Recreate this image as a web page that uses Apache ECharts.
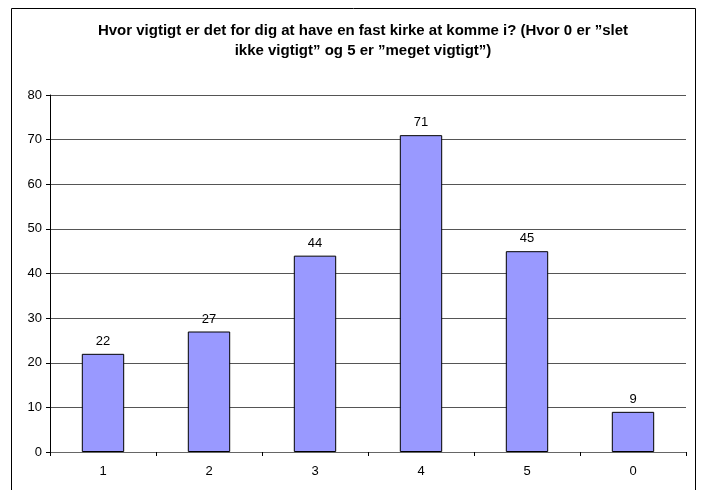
<!DOCTYPE html>
<html>
<head>
<meta charset="utf-8">
<script src="https://cdn.jsdelivr.net/npm/echarts@6/dist/echarts.min.js"></script>
<style>
    html, body { margin: 0; padding: 0; background: #fff; }
    #chart { width: 703px; height: 490px; }
</style>
</head>
<body>
<div id="chart"></div>
<script>
    // svar-kategorier og antal
    const categories = ['1', '2', '3', '4', '5', '0']
    const counts = [22, 27, 44, 71, 45, 9]
    const yTicks = [0, 10, 20, 30, 40, 50, 60, 70, 80]

    const chart = echarts.init(document.getElementById('chart'))
    chart.setOption({
        animation: false,
        textStyle: {fontFamily: 'Liberation Sans, Arial, sans-serif'},
        title: {
            text: 'Hvor vigtigt er det for dig at have en fast kirke at komme i? (Hvor 0 er ”slet\nikke vigtigt” og 5 er ”meget vigtigt”)',
            left: 358,
            top: 16,
            textAlign: 'center',
            textStyle: {fontSize: 15, fontWeight: 'bold', color: '#000', lineHeight: 20}
        },
        graphic: [{
            type: 'rect',
            shape: {x: 11.5, y: 8.5, width: 684, height: 520},
            style: {fill: 'none', stroke: '#000', lineWidth: 1},
            silent: true
        }],
        grid: {left: 50, right: 17, top: 95, bottom: 38},
        xAxis: {
            type: 'category',
            data: categories,
            axisLine: {lineStyle: {color: '#666'}},
            axisTick: {show: true, length: 4, inside: false, lineStyle: {color: '#000'}},
            axisLabel: {color: '#000', fontSize: 13, margin: 13}
        },
        yAxis: {
            type: 'value',
            min: yTicks[0],
            max: yTicks[yTicks.length - 1],
            interval: 10,
            axisLine: {show: true, lineStyle: {color: '#000'}},
            axisTick: {show: true, length: 4, lineStyle: {color: '#000'}},
            axisLabel: {color: '#000', fontSize: 13, margin: 8},
            splitLine: {lineStyle: {color: '#555', width: 1}}
        },
        series: [{
            type: 'bar',
            data: counts,
            barWidth: '40%',
            itemStyle: {color: '#9999FF', borderColor: '#000', borderWidth: 1},
            label: {show: true, position: 'top', color: '#000', fontSize: 13, distance: 6}
        }]
    })
</script>
</body>
</html>
